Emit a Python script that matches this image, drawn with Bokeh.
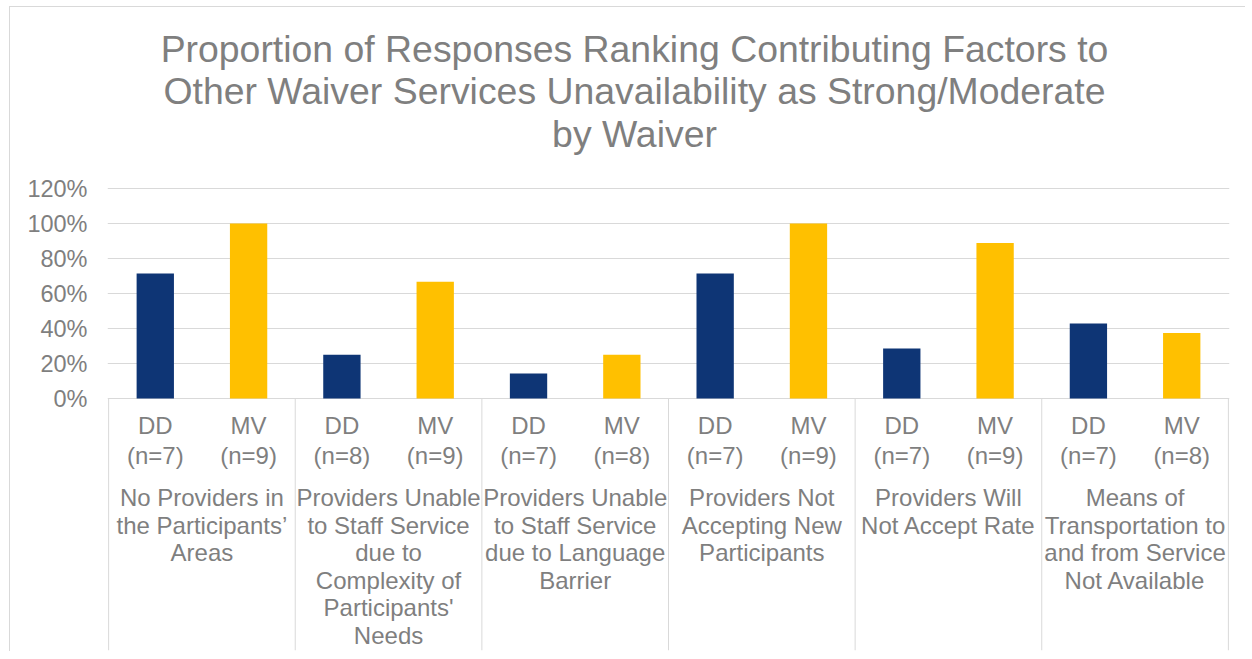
from bokeh.plotting import figure
from bokeh.models import Range1d, FixedTicker, NumeralTickFormatter
from bokeh.embed import file_html
from bokeh.resources import INLINE
from bokeh.core.properties import value

# ---------------- data ----------------
factors = [
    "No Providers in\nthe Participants\u2019\nAreas",
    "Providers Unable\nto Staff Service\ndue to\nComplexity of\nParticipants'\nNeeds",
    "Providers Unable\nto Staff Service\ndue to Language\nBarrier",
    "Providers Not\nAccepting New\nParticipants",
    "Providers Will\nNot Accept Rate",
    "Means of\nTransportation to\nand from Service\nNot Available",
]
waivers = ["DD", "MV"]
dd_n = [7, 8, 7, 7, 7, 7]
mv_n = [9, 9, 8, 9, 9, 8]
dd_values = [0.714, 0.25, 0.143, 0.714, 0.286, 0.429]
mv_values = [1.0, 0.667, 0.25, 1.0, 0.889, 0.375]
y_ticks = [0, 0.2, 0.4, 0.6, 0.8, 1.0, 1.2]
title_lines = [
    "Proportion of Responses Ranking Contributing Factors to",
    "Other Waiver Services Unavailability as Strong/Moderate",
    "by Waiver",
]

# ---------------- style ----------------
FONT = "Liberation Sans"
TEXT = "#7f7f7f"
GRID = "#d9d9d9"
NAVY = "#0E3575"
GOLD = "#FFC000"

n_groups = len(factors)
slots = 2 * n_groups
pad = 0.012
OX, OY = 10, 7                     # page offset of the canvas in the capture
W, H = 1236, 645
FRAME_L, FRAME_R = 107, 1229       # page x of frame edges
FRAME_T, FRAME_B = OY, 650         # page y of frame edges
MB_L = FRAME_L - OX
MB_R = W - (FRAME_R - OX)
MB_T = FRAME_T - OY
MB_B = H - (FRAME_B - OY)
pxu = (FRAME_R - FRAME_L) / (slots + 2 * pad)   # px per x unit
PXY = 175.0                                      # px per 100%
ZERO_PAGE_Y = 398.0


def page_x(px):
    return -pad + (px - FRAME_L) / pxu


def page_y(py):
    return (ZERO_PAGE_Y - py) / PXY


Y_TOP = page_y(FRAME_T)
Y_BOT = page_y(FRAME_B)

p = figure(
    width=W, height=H,
    x_range=Range1d(-pad, slots + pad),
    y_range=Range1d(Y_BOT, Y_TOP),
    output_backend="svg", toolbar_location=None,
    x_axis_location=None,
    min_border_left=MB_L, min_border_right=MB_R,
    min_border_top=MB_T, min_border_bottom=MB_B,
)
p.outline_line_color = None
p.background_fill_color = "white"
p.border_fill_color = "white"
p.styles = {"margin-left": "9px", "margin-top": "6px",
            "border-left": "1px solid #d9d9d9", "border-top": "1px solid #d9d9d9"}

# y axis
yax = p.yaxis[0]
yax.ticker = FixedTicker(ticks=y_ticks)
yax.formatter = NumeralTickFormatter(format="0%")
yax.axis_line_color = None
yax.major_tick_line_color = None
yax.minor_tick_line_color = None
yax.major_label_text_font = FONT
yax.major_label_text_font_size = "23.5px"
yax.major_label_text_color = TEXT
yax.major_label_standoff = 14

p.xgrid.visible = False
p.ygrid.grid_line_color = GRID
p.ygrid.grid_line_width = 1

# bars
dd_x = [2 * i + 0.5 for i in range(n_groups)]
mv_x = [2 * i + 1.5 for i in range(n_groups)]
p.vbar(x=dd_x, top=dd_values, bottom=0, width=0.4, fill_color=NAVY, line_color=None)
p.vbar(x=mv_x, top=mv_values, bottom=0, width=0.4, fill_color=GOLD, line_color=None)

# separators for multi-level category axis
bounds = [2 * i for i in range(n_groups + 1)]
p.segment(x0=bounds, y0=[0] * len(bounds), x1=bounds, y1=[Y_BOT] * len(bounds),
          line_color=GRID, line_width=1)

# level-1 labels
lab_kw = dict(text_font=value(FONT), text_font_size="24px", text_color=TEXT,
              text_align="center", text_baseline="middle")
xs1 = dd_x + mv_x
names1 = [waivers[0]] * n_groups + [waivers[1]] * n_groups
ns = ["(n=%d)" % n for n in dd_n] + ["(n=%d)" % n for n in mv_n]
p.text(x=xs1, y=[page_y(425)] * len(xs1), text=names1, **lab_kw)
p.text(x=xs1, y=[page_y(455)] * len(xs1), text=ns, **lab_kw)

# level-2 labels
gx, gy, gt = [], [], []
for i, f in enumerate(factors):
    for j, line in enumerate(f.split("\n")):
        gx.append(2 * i + 1.0)
        gy.append(page_y(497 + 27.6 * j))
        gt.append(line)
p.text(x=gx, y=gy, text=gt, **lab_kw)

# title (inside frame, above the plotted values)
p.text(x=[page_x(634)] * len(title_lines),
       y=[page_y(48 + 42.5 * k) for k in range(len(title_lines))],
       text=title_lines, text_font=value(FONT), text_font_size="37.4px",
       text_color=TEXT, text_align="center", text_baseline="middle")

open("out.html", "w").write(file_html(p, INLINE))
